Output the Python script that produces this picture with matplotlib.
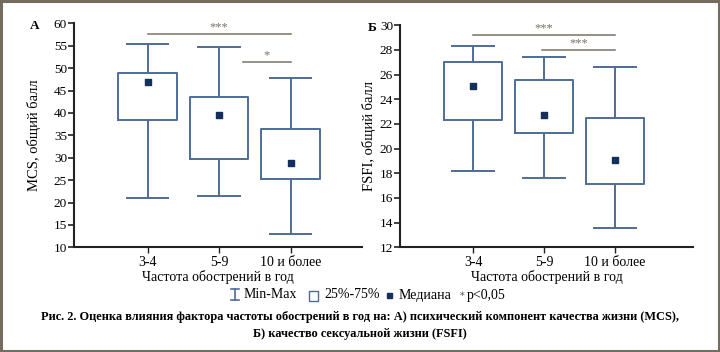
import matplotlib
matplotlib.use("Agg")
import matplotlib.pyplot as plt
from matplotlib.patches import Rectangle
from matplotlib.lines import Line2D

plt.rcParams['font.family'] = ['Liberation Serif', 'DejaVu Serif']

categories = ["3-4", "5-9", "10 и более"]

mcs_min = [21.0, 21.4, 13.0]
mcs_q1 = [38.5, 29.8, 25.2]
mcs_med = [47.0, 39.5, 28.8]
mcs_q3 = [49.0, 43.5, 36.5]
mcs_max = [55.3, 54.6, 47.8]

fsfi_min = [18.2, 17.6, 13.6]
fsfi_q1 = [22.3, 21.3, 17.1]
fsfi_med = [25.1, 22.7, 19.05]
fsfi_q3 = [27.0, 25.6, 22.5]
fsfi_max = [28.3, 27.4, 26.6]

# significance brackets: (from offset, to offset, y level, label)
mcs_sig = [(0, 2, 57.7, "***"), (1.33, 2, 51.4, "*")]
fsfi_sig = [(0, 2, 29.2, "***"), (0.97, 2, 28.0, "***")]

BOX = "#4f6c98"
MED = "#142f5e"
SIG = "#7a7164"
AX = "#222222"

fig = plt.figure(figsize=(7.2, 3.52), dpi=100)
H = 352.0
W = 720.0

def make_ax(x0, x1, ytop, ybot):
    return fig.add_axes([x0 / W, 1 - ybot / H, (x1 - x0) / W, (ybot - ytop) / H])

ax1 = make_ax(74, 362, 23.3, 247.3)
ax2 = make_ax(400, 693, 25.3, 247.3)

def draw(ax, mn, q1, md, q3, mx, sig, ylim, yticks, ylabel, letter, letter_x, xlim, labelpad):
    pos = [1, 2, 3]
    stats = []
    for i in range(3):
        stats.append(dict(whislo=mn[i], q1=q1[i], med=md[i], q3=q3[i], whishi=mx[i], fliers=[]))
    ax.bxp(stats, positions=pos, widths=0.82, showfliers=False,
           boxprops=dict(color=BOX, linewidth=1.4),
           whiskerprops=dict(color=BOX, linewidth=1.4),
           capprops=dict(color=BOX, linewidth=1.4),
           medianprops=dict(linewidth=0),
           capwidths=0.58)
    ax.scatter(pos, md, marker='s', s=15, color=MED, zorder=5)
    for a, b, y, lab in sig:
        ax.plot([pos[0] + a, pos[0] + b], [y, y], color=SIG, linewidth=1.1)
        ax.text((pos[0] + a + pos[0] + b) / 2, y + (ylim[1] - ylim[0]) * 0.002, lab,
                ha='center', va='bottom', fontsize=9, color=SIG)
    ax.set_xlim(*xlim)
    ax.set_ylim(*ylim)
    ax.set_yticks(yticks)
    ax.set_xticks(pos)
    ax.set_xticklabels(categories, fontsize=10)
    ax.tick_params(axis='y', labelsize=9.5, length=4, width=1.2, color=AX, pad=1)
    ax.tick_params(axis='x', length=4, width=1.0, color=AX, pad=2)
    for s in ['top', 'right']:
        ax.spines[s].set_visible(False)
    for s in ['left', 'bottom']:
        ax.spines[s].set_color(AX)
        ax.spines[s].set_linewidth(1.5)
    ax.set_ylabel(ylabel, fontsize=10.5, labelpad=labelpad)
    ax.set_xlabel("Частота обострений в год", fontsize=10, labelpad=1)
    ax.text(letter_x, 0.99, letter, transform=ax.transAxes, fontsize=9.5, fontweight='bold',
            ha='center', va='center')

draw(ax1, mcs_min, mcs_q1, mcs_med, mcs_q3, mcs_max, mcs_sig, (10, 60),
     list(range(10, 61, 5)), "MCS, общий балл", "А", -0.135, (-0.03, 4.0), 9)
draw(ax2, fsfi_min, fsfi_q1, fsfi_med, fsfi_q3, fsfi_max, fsfi_sig, (12, 30),
     list(range(12, 31, 2)), "FSFI, общий балл", "Б", -0.095, (-0.03, 4.1), 3)

# legend
ly = 1 - 295 / H
def fx(px):
    return px / W
fig.add_artist(Line2D([fx(235), fx(235)], [1 - 289 / H, 1 - 300 / H], color=BOX, lw=1.2))
fig.add_artist(Line2D([fx(231), fx(239)], [1 - 289 / H, 1 - 289 / H], color=BOX, lw=1.2))
fig.add_artist(Line2D([fx(231), fx(239)], [1 - 300 / H, 1 - 300 / H], color=BOX, lw=1.2))
fig.text(fx(244), ly, "Min-Max", fontsize=10, va='center', ha='left')
fig.add_artist(Rectangle((fx(309), 1 - 301 / H), 9 / W, 10 / H, fill=False, edgecolor=BOX, lw=1.0))
fig.text(fx(324), ly, "25%-75%", fontsize=10, va='center', ha='left')
fig.add_artist(Rectangle((fx(387), 1 - 298 / H), 5 / W, 5 / H, color=MED))
fig.text(fx(399), ly, "Медиана", fontsize=10, va='center', ha='left')
fig.text(fx(459), ly, "∗", fontsize=7, va='center', ha='left', color='#555555')
fig.text(fx(467), ly, "p<0,05", fontsize=10, va='center', ha='left')

fig.text(0.5, 1 - 317 / H, "Рис. 2. Оценка влияния фактора частоты обострений в год на: А) психический компонент качества жизни (MCS),",
         fontsize=8.9, fontweight='bold', ha='center', va='center')
fig.text(0.5, 1 - 334 / H, "Б) качество сексуальной жизни (FSFI)",
         fontsize=8.9, fontweight='bold', ha='center', va='center')

fig.add_artist(Rectangle((0.001, 0.002), 0.997, 0.995, fill=False, edgecolor='#756c60', lw=2.2,
                         transform=fig.transFigure))

fig.savefig("out.png", dpi=100)
